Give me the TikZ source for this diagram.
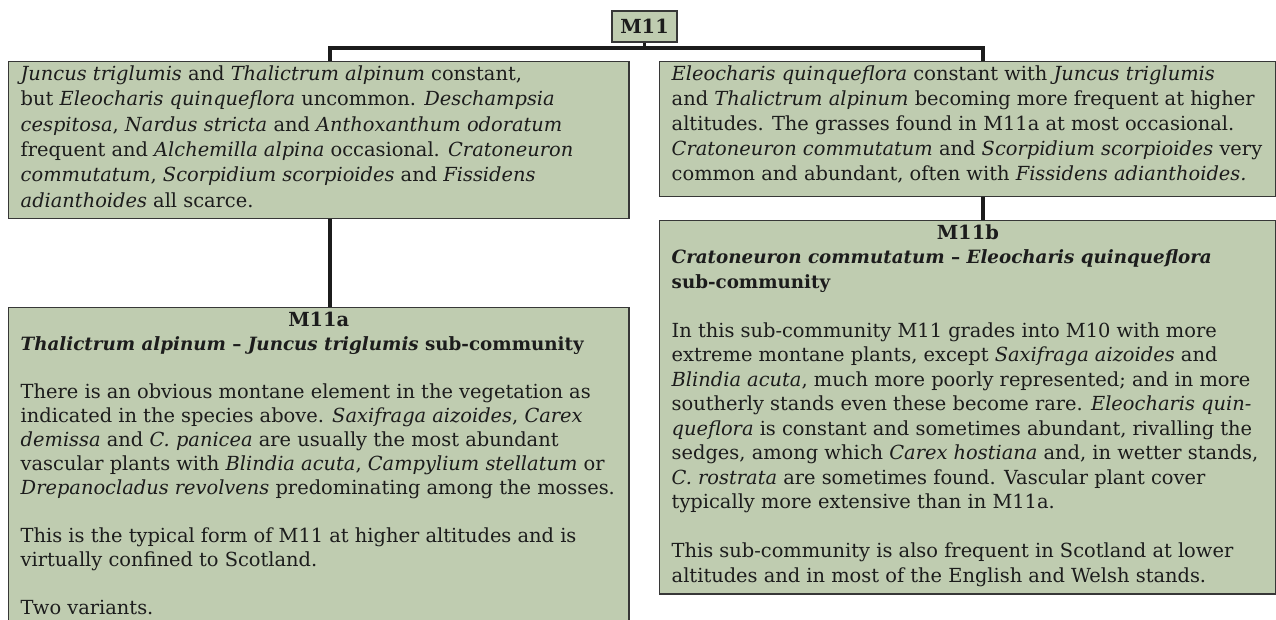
\documentclass[tikz,border=0pt]{standalone}
\usepackage{fontspec}
\setmainfont{DejaVu Serif}
\usepackage{tikz}
\usetikzlibrary{positioning}

\definecolor{sage}{RGB}{191,204,176}
\definecolor{rulegray}{RGB}{55,55,55}
\definecolor{ink}{RGB}{28,28,28}
% text block of a box: width, height, text (leading as option)
\newcommand{\boxbody}[4][17.4pt]{\parbox[c][#3][t]{#2}{\fontsize{13.8pt}{#1}\selectfont
  \raggedright\rightskip=-0.4cm plus 1fil #4}}

\begin{document}
\begin{tikzpicture}[
    x=0.025cm, y=-0.025cm,
    every node/.style={font=\fontsize{13.8pt}{17.4pt}\selectfont, text=ink},
    head/.style={draw=rulegray, fill=sage, line width=1pt, minimum width=1.625cm,
      minimum height=0.775cm, inner sep=0pt, font=\fontsize{13.8pt}{17.4pt}\selectfont\bfseries},
    desc/.style={draw=rulegray, fill=sage, line width=1pt, anchor=north west,
      inner xsep=0.3cm, inner ysep=0.1cm},
    tree/.style={line width=2.2pt, draw=ink}
  ]
    \useasboundingbox (0,0) rectangle (1276,619);
    \clip (0,0) rectangle (1276,619);

    % Community at the top
    \node[head] (m11) at (644.5,26.5) {M11};

    % The two descriptions under it
    \node[desc] (a) at (8,61) {\boxbody[18pt]{14.9cm}{3.725cm}{%
      \textit{Juncus triglumis} and \textit{Thalictrum alpinum} constant,\\
      but \textit{Eleocharis quinqueflora} uncommon. \textit{Deschampsia}\\
      \textit{cespitosa}, \textit{Nardus stricta} and \textit{Anthoxanthum odoratum}\\
      frequent and \textit{Alchemilla alpina} occasional. \textit{Cratoneuron}\\
      \textit{commutatum}, \textit{Scorpidium scorpioides} and \textit{Fissidens}\\
      \textit{adianthoides} all scarce.}};
    \node[desc] (b) at (659,61) {\boxbody[17.8pt]{14.8cm}{3.175cm}{%
      \textit{Eleocharis quinqueflora} constant with \textit{Juncus triglumis}\\
      and \textit{Thalictrum alpinum} becoming more frequent at higher\\
      altitudes. The grasses found in M11a at most occasional.\\
      \textit{Cratoneuron commutatum} and \textit{Scorpidium scorpioides} very\\
      common and abundant, often with \textit{Fissidens adianthoides.}}};

    % Sub-communities
    \node[desc] (c) at (8,307) {\boxbody[17.1pt]{14.9cm}{7.95cm}{%
      {\centering\textbf{M11a}\par}
      {\fontsize{13pt}{17.1pt}\selectfont\bfseries
      \textit{Thalictrum alpinum} -- \textit{Juncus triglumis} sub-community}\\[\baselineskip]
      There is an obvious montane element in the vegetation as\\
      indicated in the species above. \textit{Saxifraga aizoides}, \textit{Carex}\\
      \textit{demissa} and \textit{C. panicea} are usually the most abundant\\
      vascular plants with \textit{Blindia acuta}, \textit{Campylium stellatum} or\\
      \textit{Drepanocladus revolvens} predominating among the mosses.\\[\baselineskip]
      This is the typical form of M11 at higher altitudes and is\\
      virtually confined to Scotland.\\[\baselineskip]
      Two variants.}};
    \node[desc] (d) at (659,220) {\boxbody{14.8cm}{9.125cm}{%
      {\centering\textbf{M11b}\par}
      {\fontsize{13pt}{17.4pt}\selectfont\bfseries
      \textit{Cratoneuron commutatum} -- \textit{Eleocharis quinqueflora}\\
      sub-community}\\[\baselineskip]
      In this sub-community M11 grades into M10 with more\\
      extreme montane plants, except \textit{Saxifraga aizoides} and\\
      \textit{Blindia acuta}, much more poorly represented; and in more\\
      southerly stands even these become rare. \textit{Eleocharis quin-}\\
      \textit{queflora} is constant and sometimes abundant, rivalling the\\
      sedges, among which \textit{Carex hostiana} and, in wetter stands,\\
      \textit{C. rostrata} are sometimes found. Vascular plant cover\\
      typically more extensive than in M11a.\\[\baselineskip]
      This sub-community is also frequent in Scotland at lower\\
      altitudes and in most of the English and Welsh stands.}};

    % Tree lines
    \coordinate (jl) at (330,48);
    \coordinate (jr) at (983,48);
    \draw[tree] (m11.south) -- (m11.south |- jl);
    \draw[tree] (jl |- a.north) -- (jl) -- (jr) -- (jr |- b.north);
    \draw[tree] (jl |- a.south) -- (jl |- c.north);
    \draw[tree] (jr |- b.south) -- (jr |- d.north);

  \end{tikzpicture}
\end{document}
